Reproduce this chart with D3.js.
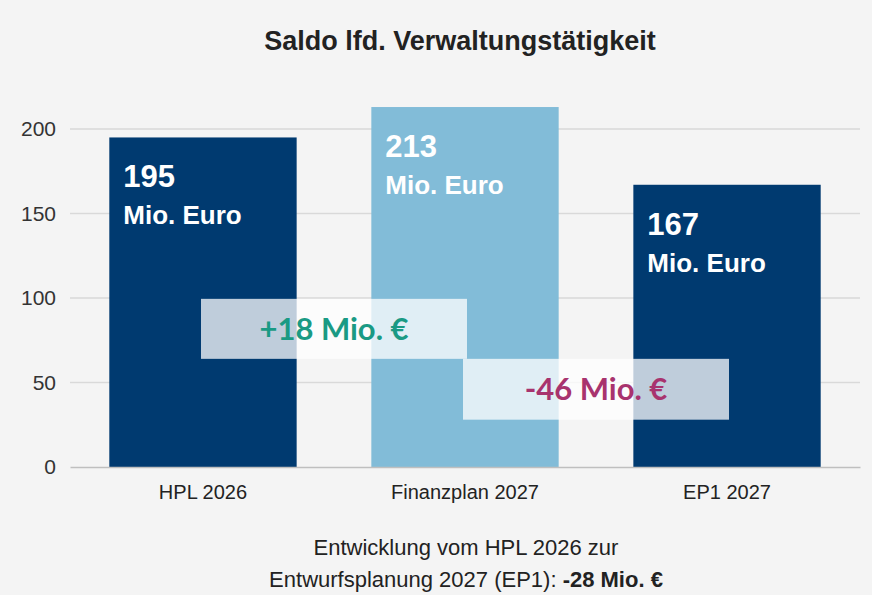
<!DOCTYPE html>
<html><head><meta charset="utf-8">
<script src="https://cdn.jsdelivr.net/npm/d3@7"></script>
<style>
body{margin:0;background:#f4f4f4;}
svg{display:block;font-family:"Liberation Sans",Arial,sans-serif;}
</style></head>
<body><svg id="chart" width="872" height="595"></svg>
<script>
const categories = ["HPL 2026", "Finanzplan 2027", "EP1 2027"];
const values = [195, 213, 167];
const barColors = ["#003a70", "#82bcd8", "#003a70"];
const yTicks = [0, 50, 100, 150, 200];
// difference boxes: between bars, value range [low, high]
const diffLabels = ["+18 Mio. €", "-46 Mio. €"];
const diffRanges = [[64, 99.5], [28, 64]];
const diffColors = ["#1a9a84", "#a8336e"];

const svg = d3.select("#chart");
const margin = {top: 100, right: 12, bottom: 128, left: 70};
const width = 872 - margin.left - margin.right;
const height = 595 - margin.top - margin.bottom;
const g = svg.append("g").attr("transform", `translate(${margin.left},${margin.top})`);

const x = d3.scaleBand().domain(categories).range([0, width]).paddingInner(0.285).paddingOuter(0.15);
const y = d3.scaleLinear().domain([0, 200]).range([height, height - 338]);

// gridlines
g.selectAll(".grid").data(yTicks.slice(1)).enter().append("line")
  .attr("x1", 0).attr("x2", width)
  .attr("y1", d => y(d)).attr("y2", d => y(d))
  .attr("stroke", "#d9d9d9").attr("stroke-width", 1.5);

// y axis
const yAxis = g.append("g").call(d3.axisLeft(y).tickValues(yTicks).tickSize(0).tickPadding(14));
yAxis.select(".domain").remove();
yAxis.selectAll("text").attr("font-size", 21).attr("fill", "#333").attr("font-family", "Liberation Sans, Arial, sans-serif");

// bars
g.selectAll(".bar").data(values).enter().append("rect")
  .attr("x", (d, i) => x(categories[i]))
  .attr("y", d => y(d))
  .attr("width", x.bandwidth())
  .attr("height", d => height - y(d))
  .attr("fill", (d, i) => barColors[i]);

// x axis
const xAxis = g.append("g").attr("transform", `translate(0,${height})`)
  .call(d3.axisBottom(x).tickSize(0).tickPadding(18));
xAxis.select(".domain").attr("stroke", "#bfbfbf").attr("stroke-width", 1.5);
xAxis.selectAll("text").attr("font-size", 20).attr("fill", "#222").attr("font-family", "Liberation Sans, Arial, sans-serif");

// value labels inside bars
values.forEach((v, i) => {
  const t = g.append("text").attr("x", x(categories[i]) + 14).attr("y", y(v) + 50)
    .attr("fill", "#fff").attr("font-weight", "bold");
  t.append("tspan").attr("font-size", 31).text(v);
  t.append("tspan").attr("x", x(categories[i]) + 14).attr("dy", 37).attr("font-size", 26).text("Mio. Euro");
});

// difference boxes
diffLabels.forEach((lab, i) => {
  const cx = (x(categories[i]) + x.bandwidth() + x(categories[i + 1])) / 2;
  const w = 266;
  const [lo, hi] = diffRanges[i];
  g.append("rect").attr("x", cx - w / 2).attr("y", y(hi)).attr("width", w).attr("height", y(lo) - y(hi))
    .attr("fill", "#fff").attr("opacity", 0.75);
  g.append("text").attr("x", cx).attr("y", (y(lo) + y(hi)) / 2 + 11)
    .attr("text-anchor", "middle").attr("font-size", 31).attr("font-weight", "bold")
    .attr("font-family", "Lato, sans-serif").attr("fill", diffColors[i]).text(lab);
});

// title
svg.append("text").attr("x", 460).attr("y", 50).attr("text-anchor", "middle")
  .attr("font-size", 27).attr("font-weight", "bold").attr("fill", "#222").text("Saldo lfd. Verwaltungstätigkeit");

// footnote
svg.append("text").attr("x", 466).attr("y", 555).attr("text-anchor", "middle")
  .attr("font-size", 22).attr("fill", "#222").text("Entwicklung vom HPL 2026 zur");
const f2 = svg.append("text").attr("x", 466).attr("y", 587).attr("text-anchor", "middle")
  .attr("font-size", 22).attr("fill", "#222");
f2.append("tspan").text("Entwurfsplanung 2027 (EP1): ");
f2.append("tspan").attr("font-weight", "bold").text("-28 Mio. €");
</script></body></html>
